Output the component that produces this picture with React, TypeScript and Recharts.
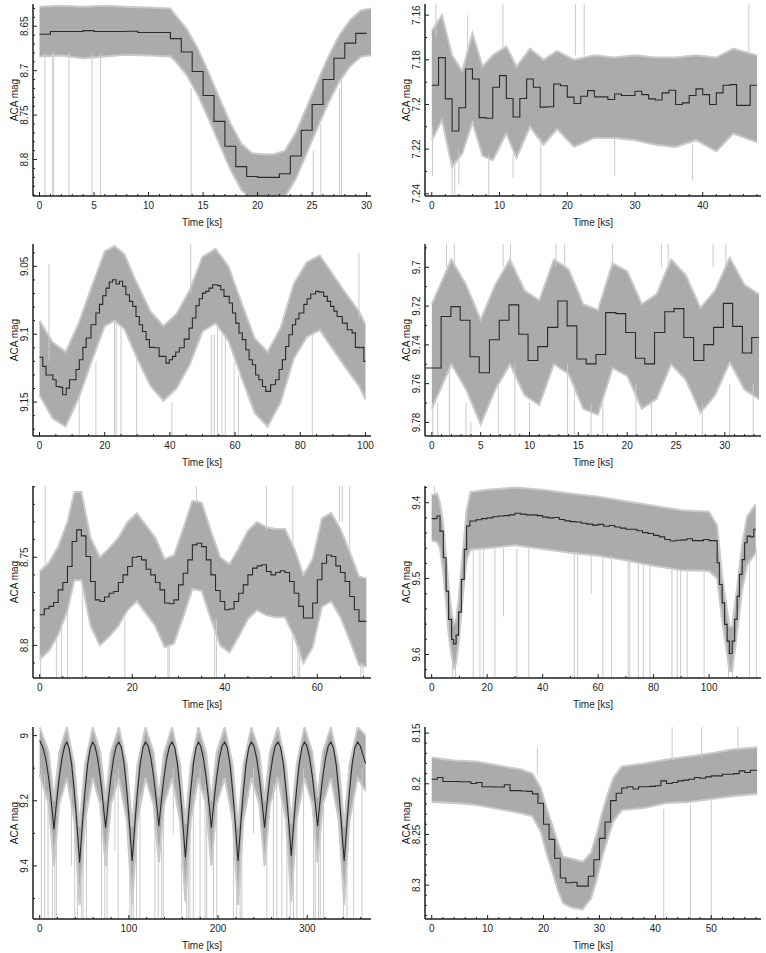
import { ComposedChart, Line, Area, XAxis, YAxis } from "recharts";

const INK = "#1e1e1e";
const BAND = "#ababab";
const HAIR = "#cacaca";
const FONT = "'Liberation Sans', Arial, Helvetica, sans-serif";

// ---- panel 1 (top left) ----
const p1Time = [0, 1, 2, 3, 4, 5, 6, 7, 8, 9, 10, 11, 12, 13, 14, 15, 16, 17, 18, 19, 20, 21, 22, 23, 24, 25, 26, 27, 28, 29];
const p1Mag = [8.659, 8.656, 8.656, 8.656, 8.655, 8.656, 8.656, 8.656, 8.6556, 8.657, 8.657, 8.657, 8.664, 8.679, 8.701, 8.728, 8.757, 8.785, 8.808, 8.819, 8.82, 8.82, 8.816, 8.796, 8.767, 8.738, 8.71, 8.686, 8.669, 8.658];
const p1End = 30;
const p1EnvTime = [0, 2, 4, 6, 8, 10, 12, 12.5, 13.5, 14.5, 15.5, 16.5, 17.5, 18.5, 19.5, 20.5, 21.5, 22.5, 23.5, 24.5, 25.5, 26.5, 27.5, 28.5, 29.5, 30.4];
const p1EnvLo = [8.628, 8.627, 8.628, 8.627, 8.628, 8.629, 8.63, 8.638, 8.653, 8.675, 8.702, 8.731, 8.759, 8.782, 8.793, 8.794, 8.794, 8.79, 8.77, 8.741, 8.712, 8.684, 8.66, 8.643, 8.632, 8.63];
const p1EnvHi = [8.684, 8.683, 8.686, 8.684, 8.682, 8.683, 8.684, 8.69, 8.705, 8.727, 8.754, 8.783, 8.811, 8.834, 8.845, 8.846, 8.846, 8.842, 8.822, 8.793, 8.764, 8.736, 8.712, 8.695, 8.684, 8.683];
const p1SpikeTime = [0.5, 1.2, 1.3, 2.7, 4.8, 5.6, 13.9, 25.1, 25.8, 27.5, 27.7];
const p1SpikeFrom = [8.68, 8.68, 8.68, 8.68, 8.68, 8.68, 8.72, 8.79, 8.76, 8.72, 8.71];
const p1SpikeTo = [8.845, 8.845, 8.845, 8.845, 8.845, 8.845, 8.845, 8.845, 8.845, 8.845, 8.845];

// ---- panel 2 (top right) ----
const p2Time = [0, 1, 2, 3, 4, 5, 6, 7, 8, 9, 10, 11, 12, 13, 14, 15, 16, 17, 18, 19, 20, 21, 22, 23, 24, 25, 26, 27, 28, 29, 30, 31, 32, 33, 34, 35, 36, 37, 38, 39, 40, 41, 42, 43, 44, 45, 46, 47];
const p2Mag = [7.1914, 7.179, 7.1975, 7.2119, 7.2015, 7.1841, 7.1886, 7.2059, 7.2062, 7.1923, 7.1871, 7.1973, 7.2056, 7.1973, 7.1886, 7.1923, 7.2012, 7.201, 7.1908, 7.1916, 7.1967, 7.1996, 7.1963, 7.1938, 7.1966, 7.1966, 7.1978, 7.1953, 7.196, 7.196, 7.1941, 7.1956, 7.1975, 7.198, 7.1948, 7.1936, 7.2, 7.1993, 7.196, 7.193, 7.1956, 7.2, 7.1948, 7.1914, 7.1911, 7.2004, 7.2004, 7.1914];
const p2End = 48;
const p2EnvTime = [0, 1.5, 3, 4.5, 6, 7.5, 9, 11, 12.5, 14.5, 16.5, 18.5, 21, 24, 27, 30, 33, 36, 39, 42, 44.5, 48];
const p2EnvLo = [7.167, 7.16, 7.178, 7.185, 7.168, 7.183, 7.178, 7.174, 7.183, 7.175, 7.18, 7.176, 7.18, 7.178, 7.179, 7.178, 7.179, 7.179, 7.178, 7.179, 7.175, 7.178];
const p2EnvHi = [7.216, 7.207, 7.228, 7.222, 7.208, 7.223, 7.225, 7.213, 7.224, 7.21, 7.218, 7.211, 7.219, 7.215, 7.215, 7.216, 7.218, 7.219, 7.216, 7.221, 7.213, 7.217];
const p2SpikeTime = [0.1, 0.6, 3.0, 3.4, 4.0, 5.3, 8.4, 10.5, 12.0, 16.1, 21.2, 22.5, 27.0, 38.5, 46.8];
const p2SpikeFrom = [7.21, 7.17, 7.225, 7.225, 7.22, 7.175, 7.222, 7.175, 7.222, 7.215, 7.178, 7.178, 7.215, 7.218, 7.178];
const p2SpikeTo = [7.232, 7.155, 7.241, 7.241, 7.236, 7.16, 7.241, 7.155, 7.233, 7.241, 7.155, 7.155, 7.232, 7.234, 7.155];

// ---- panel 3 (second row left) ----
const p3Time = [0, 1, 2, 4.1, 5.1, 6.1, 7.1, 8.2, 9.2, 11.2, 12.2, 13.3, 14.3, 15.8, 17.3, 18.4, 19.4, 20.4, 21.4, 22.4, 23.5, 24.5, 25.5, 26.5, 27.6, 28.6, 29.6, 30.6, 31.6, 32.7, 33.7, 35.2, 36.7, 38.8, 39.8, 40.8, 41.8, 42.9, 44.4, 45.9, 46.9, 48, 49, 50, 51, 52, 53.1, 54.6, 55.6, 56.6, 58.2, 59.2, 60.2, 61.2, 62.2, 63.3, 64.3, 65.3, 66.3, 67.3, 68.4, 69.4, 70.9, 72.4, 73.5, 74.5, 75.5, 76.5, 77.6, 78.6, 79.6, 81.1, 82.1, 83.2, 84.7, 85.7, 87.2, 88.3, 89.3, 90.3, 91.3, 92.9, 94.4, 95.9, 96.9, 98, 99, 99.5];
const p3Mag = [9.117, 9.1237, 9.13, 9.1335, 9.1385, 9.139, 9.1446, 9.1397, 9.1335, 9.126, 9.1188, 9.1097, 9.1028, 9.093, 9.0844, 9.078, 9.0716, 9.066, 9.0615, 9.0598, 9.063, 9.061, 9.0647, 9.0709, 9.0758, 9.0795, 9.0869, 9.093, 9.098, 9.104, 9.1097, 9.11, 9.1163, 9.1213, 9.1188, 9.1163, 9.1131, 9.11, 9.1036, 9.0955, 9.088, 9.079, 9.0738, 9.0697, 9.0684, 9.066, 9.0635, 9.0642, 9.0672, 9.0721, 9.077, 9.0844, 9.0918, 9.0991, 9.104, 9.1114, 9.1188, 9.1225, 9.13, 9.1335, 9.1385, 9.1421, 9.1372, 9.1335, 9.126, 9.1188, 9.109, 9.1004, 9.093, 9.0888, 9.0844, 9.078, 9.0738, 9.0704, 9.0684, 9.069, 9.0721, 9.0758, 9.0795, 9.083, 9.0869, 9.0918, 9.0967, 9.099, 9.1097, 9.11, 9.1097, 9.12];
const p3End = 100;
const p3EnvTime = [0, 4, 8, 12, 16, 20, 23, 26, 30, 34, 38, 42, 46, 50, 54, 58, 62, 66, 70, 74, 78, 82, 86, 90, 94, 98, 100];
const p3EnvLo = [9.09, 9.106, 9.113, 9.092, 9.065, 9.039, 9.035, 9.041, 9.063, 9.083, 9.094, 9.085, 9.068, 9.043, 9.037, 9.05, 9.077, 9.103, 9.113, 9.095, 9.063, 9.047, 9.042, 9.056, 9.07, 9.083, 9.093];
const p3EnvHi = [9.145, 9.162, 9.168, 9.147, 9.12, 9.094, 9.09, 9.096, 9.118, 9.138, 9.149, 9.14, 9.123, 9.098, 9.092, 9.105, 9.132, 9.158, 9.168, 9.15, 9.118, 9.102, 9.097, 9.111, 9.125, 9.138, 9.148];
const p3SpikeTime = [2.9, 12.2, 17.3, 23.0, 23.5, 25.0, 29.8, 40.6, 46.4, 52.7, 53.6, 54.6, 56.0, 57.0, 59.7, 61.0, 83.7, 98.0];
const p3SpikeFrom = [9.12, 9.145, 9.12, 9.09, 9.09, 9.095, 9.115, 9.15, 9.07, 9.1, 9.1, 9.095, 9.1, 9.1, 9.12, 9.13, 9.1, 9.09];
const p3SpikeTo = [9.048, 9.176, 9.176, 9.176, 9.176, 9.176, 9.176, 9.176, 9.033, 9.176, 9.176, 9.176, 9.176, 9.176, 9.176, 9.176, 9.176, 9.04];

// ---- panel 4 (second row right) ----
const p4Time = [-0.6, 0.95, 1.95, 2.9, 3.9, 4.85, 5.9, 6.9, 7.9, 8.9, 9.85, 10.85, 11.85, 12.9, 13.85, 14.85, 15.8, 16.8, 17.8, 18.85, 19.85, 20.85, 21.8, 22.8, 23.85, 24.8, 25.8, 26.8, 27.85, 28.85, 29.85, 30.8, 31.8, 32.75];
const p4Mag = [9.7519, 9.7254, 9.7203, 9.7273, 9.7461, 9.7544, 9.7374, 9.7273, 9.7194, 9.7345, 9.7481, 9.7409, 9.731, 9.7174, 9.7302, 9.7473, 9.7498, 9.745, 9.7234, 9.7239, 9.7336, 9.7469, 9.7498, 9.7336, 9.7229, 9.7213, 9.7362, 9.7481, 9.7399, 9.731, 9.7186, 9.7305, 9.7442, 9.7362];
const p4End = 33.5;
const p4EnvTime = [0, 2, 3.5, 5, 6.5, 8, 9.5, 11, 12.5, 14, 15.5, 17, 18.5, 20, 21.5, 23, 24.5, 26, 27.5, 29, 30.5, 32, 33.5];
const p4EnvLo = [9.719, 9.696, 9.709, 9.727, 9.709, 9.696, 9.712, 9.717, 9.696, 9.701, 9.719, 9.722, 9.698, 9.702, 9.719, 9.714, 9.696, 9.704, 9.721, 9.712, 9.695, 9.709, 9.714];
const p4EnvHi = [9.773, 9.75, 9.763, 9.781, 9.763, 9.75, 9.766, 9.771, 9.75, 9.755, 9.773, 9.776, 9.752, 9.756, 9.773, 9.768, 9.75, 9.758, 9.775, 9.766, 9.749, 9.763, 9.768];
const p4SpikeTime = [1.5, 2.3, 7.3, 8.05, 12.7, 13.6, 18.5, 23.5, 24.2, 28.8, 30.1, 0.1, 0.6, 1.8, 3.5, 4.0, 6.8, 8.5, 10.0, 13.9, 14.6, 16.3, 17.5, 20.9, 22.5, 27.7, 30.5, 32.9];
const p4SpikeFrom = [9.7, 9.7, 9.7, 9.7, 9.7, 9.7, 9.7, 9.7, 9.7, 9.7, 9.7, 9.77, 9.77, 9.75, 9.77, 9.78, 9.76, 9.75, 9.77, 9.75, 9.76, 9.77, 9.77, 9.76, 9.77, 9.77, 9.76, 9.76];
const p4SpikeTo = [9.687, 9.687, 9.687, 9.687, 9.687, 9.687, 9.687, 9.687, 9.687, 9.687, 9.687, 9.788, 9.788, 9.788, 9.788, 9.788, 9.788, 9.788, 9.788, 9.788, 9.788, 9.788, 9.788, 9.788, 9.788, 9.788, 9.788, 9.788];

// ---- panel 5 (third row left) ----
const p5Time = [0, 1, 2, 3, 4, 5, 6, 7, 8, 9, 10, 11, 12, 13, 14, 15, 16, 17, 18, 19, 20, 21, 22, 23, 24, 25, 26, 27, 28, 29, 30, 31, 32, 33, 34, 35, 36, 37, 38, 39, 40, 41, 42, 43, 44, 45, 46, 47, 48, 49, 50, 51, 52, 53, 54, 55, 56, 57, 58, 59, 60, 61, 62, 63, 64, 65, 66, 67, 68, 69];
const p5Mag = [8.7826, 8.7792, 8.7779, 8.7757, 8.7685, 8.7643, 8.7553, 8.7411, 8.7345, 8.7379, 8.7496, 8.7638, 8.7742, 8.7751, 8.7726, 8.7704, 8.7694, 8.7643, 8.76, 8.7553, 8.75, 8.7496, 8.7515, 8.7568, 8.76, 8.7643, 8.7685, 8.776, 8.7764, 8.7742, 8.7657, 8.7591, 8.7515, 8.743, 8.7421, 8.744, 8.7515, 8.76, 8.7689, 8.7751, 8.7798, 8.7794, 8.7751, 8.7704, 8.7657, 8.76, 8.7562, 8.7549, 8.7543, 8.7581, 8.76, 8.7587, 8.7577, 8.7587, 8.7638, 8.7704, 8.7779, 8.7845, 8.7845, 8.776, 8.7628, 8.7534, 8.7487, 8.7496, 8.7549, 8.7587, 8.7638, 8.7723, 8.7798, 8.7864];
const p5End = 70.6;
const p5EnvTime = [0, 2, 4, 6, 7.5, 9, 11, 13, 15, 17, 19, 21, 23, 25, 27, 29, 31, 33, 35, 37, 39, 41, 43, 45, 47, 49, 51, 53, 55, 57, 59, 61, 63, 65, 67, 69, 70.6];
const p5EnvLo = [8.758, 8.753, 8.744, 8.73, 8.713, 8.713, 8.739, 8.75, 8.745, 8.739, 8.73, 8.725, 8.732, 8.739, 8.751, 8.749, 8.734, 8.718, 8.719, 8.735, 8.75, 8.754, 8.745, 8.735, 8.73, 8.733, 8.734, 8.734, 8.745, 8.76, 8.751, 8.728, 8.725, 8.734, 8.747, 8.761, 8.762];
const p5EnvHi = [8.808, 8.803, 8.794, 8.78, 8.763, 8.763, 8.789, 8.8, 8.795, 8.789, 8.78, 8.775, 8.782, 8.789, 8.801, 8.799, 8.784, 8.768, 8.769, 8.785, 8.8, 8.804, 8.795, 8.785, 8.78, 8.783, 8.784, 8.784, 8.795, 8.81, 8.801, 8.778, 8.775, 8.784, 8.797, 8.811, 8.812];
const p5SpikeTime = [1.2, 33.9, 49.0, 54.7, 64.8, 65.4, 67.0, 0.2, 3.6, 4.7, 6.0, 9.2, 18.4, 27.7, 28.0, 37.8, 38.2, 54.6, 55.8, 56.2, 69.4, 69.9];
const p5SpikeFrom = [8.755, 8.72, 8.735, 8.745, 8.73, 8.73, 8.745, 8.805, 8.795, 8.79, 8.78, 8.765, 8.785, 8.8, 8.8, 8.785, 8.785, 8.795, 8.8, 8.8, 8.81, 8.81];
const p5SpikeTo = [8.709, 8.709, 8.709, 8.709, 8.709, 8.709, 8.709, 8.819, 8.819, 8.819, 8.819, 8.819, 8.819, 8.819, 8.819, 8.819, 8.819, 8.819, 8.819, 8.819, 8.819, 8.819];

// ---- panel 6 (third row right) ----
const p6Time = [0, 1.9, 3.0, 4.2, 5.2, 6.1, 7.2, 7.9, 8.8, 9.7, 10.7, 11.75, 12.6, 13.8, 16, 18, 20, 22, 24, 26, 28, 30, 32, 34, 36, 38, 40, 42, 44, 46, 48, 50, 52, 54, 56, 58, 60, 62, 64, 66, 68, 70, 72, 74, 76, 78, 80, 82, 84, 86, 88, 90, 92, 94, 96, 98, 100, 102.9, 103.7, 104.7, 105.6, 106.5, 107.3, 108.3, 109.2, 110.1, 110.9, 111.9, 112.8, 113.7, 114.9, 116.1];
const p6Mag = [9.421, 9.4176, 9.4374, 9.4725, 9.5165, 9.5538, 9.5802, 9.586, 9.5745, 9.5442, 9.5011, 9.4615, 9.4308, 9.4242, 9.4225, 9.421, 9.42, 9.4185, 9.4176, 9.417, 9.416, 9.414, 9.415, 9.416, 9.416, 9.417, 9.419, 9.42, 9.4196, 9.4222, 9.424, 9.425, 9.4255, 9.427, 9.4283, 9.4296, 9.4286, 9.431, 9.43, 9.432, 9.4335, 9.435, 9.435, 9.437, 9.4395, 9.4405, 9.443, 9.445, 9.4484, 9.4505, 9.4495, 9.449, 9.4475, 9.45, 9.45, 9.4484, 9.45, 9.4791, 9.5077, 9.532, 9.5604, 9.5824, 9.5987, 9.5824, 9.5538, 9.5235, 9.4945, 9.475, 9.4527, 9.444, 9.445, 9.435];
const p6End = 116.8;
const p6EnvTime = [0, 2, 3, 4.2, 5.2, 6.1, 7.2, 8, 8.8, 9.7, 10.7, 11.7, 12.6, 14, 20, 30, 40, 50, 60, 70, 80, 90, 100, 102.9, 104.7, 106.5, 107.3, 108.3, 110.1, 111.9, 113.7, 116.8];
const p6EnvLo = [9.39, 9.388, 9.4, 9.43, 9.472, 9.512, 9.545, 9.56, 9.555, 9.528, 9.487, 9.447, 9.41, 9.386, 9.383, 9.38, 9.383, 9.388, 9.392, 9.398, 9.404, 9.41, 9.412, 9.43, 9.497, 9.543, 9.563, 9.563, 9.512, 9.455, 9.418, 9.402];
const p6EnvHi = [9.45, 9.452, 9.46, 9.492, 9.532, 9.572, 9.602, 9.618, 9.612, 9.585, 9.546, 9.505, 9.475, 9.462, 9.46, 9.456, 9.461, 9.466, 9.47, 9.476, 9.483, 9.489, 9.49, 9.5, 9.555, 9.6, 9.622, 9.622, 9.57, 9.515, 9.482, 9.466];
const p6SpikeTime = [1.0, 15, 17.4, 18.6, 22.8, 25.9, 30.7, 35, 51.4, 52.6, 57.5, 61.7, 64.8, 70.8, 71.4, 74.5, 76.3, 78.7, 86.6, 88.5, 89.7, 92.1, 98.2, 7.5, 8.6, 107.0, 108.5, 114.6, 117.0];
const p6SpikeFrom = [9.39, 9.46, 9.46, 9.46, 9.46, 9.46, 9.46, 9.46, 9.465, 9.465, 9.47, 9.47, 9.47, 9.475, 9.475, 9.48, 9.48, 9.48, 9.485, 9.49, 9.49, 9.49, 9.49, 9.6, 9.61, 9.61, 9.62, 9.48, 9.46];
const p6SpikeTo = [9.378, 9.632, 9.632, 9.632, 9.632, 9.55, 9.632, 9.632, 9.632, 9.632, 9.52, 9.632, 9.632, 9.632, 9.632, 9.632, 9.632, 9.632, 9.632, 9.632, 9.632, 9.632, 9.632, 9.632, 9.632, 9.632, 9.632, 9.632, 9.632];

// ---- panel 7 (bottom left) ----
const p7Time = [
  0, 4, 7, 10, 12, 14, 16, 18, 20, 22, 25, 28, 30.4,
  32.8, 35.8, 38.8, 40.8, 42.8, 44.8, 46.8, 48.8, 50.8, 53.8, 56.8, 59.4,
  61.9, 64.9, 67.9, 69.9, 71.9, 73.9, 75.9, 77.9, 79.9, 82.9, 85.9, 88.8,
  91.7, 94.7, 97.7, 99.7, 101.7, 103.7, 105.7, 107.7, 109.7, 112.7, 115.7, 118.6,
  121.6, 124.6, 127.6, 129.6, 131.6, 133.6, 135.6, 137.6, 139.6, 142.6, 145.6, 148.5,
  151.4, 154.4, 157.4, 159.4, 161.4, 163.4, 165.4, 167.4, 169.4, 172.4, 175.4, 178,
  180.5, 183.5, 186.5, 188.5, 190.5, 192.5, 194.5, 196.5, 198.5, 201.5, 204.5, 207.5,
  210.4, 213.4, 216.4, 218.4, 220.4, 222.4, 224.4, 226.4, 228.4, 231.4, 234.4, 237.3,
  240.2, 243.2, 246.2, 248.2, 250.2, 252.2, 254.2, 256.2, 258.2, 261.2, 264.2, 267.2,
  270.1, 273.1, 276.1, 278.1, 280.1, 282.1, 284.1, 286.1, 288.1, 291.1, 294.1, 296.9,
  299.6, 302.6, 305.6, 307.6, 309.6, 311.6, 313.6, 315.6, 317.6, 320.6, 323.6, 326.5,
  329.4, 332.4, 335.4, 337.4, 339.4, 341.4, 343.4, 345.4, 347.4, 350.4, 353.4, 356.5,
  359.5, 362.5, 365.5,
];
const p7Mag = [
  9.015, 9.04, 9.075, 9.128, 9.176, 9.229, 9.288, 9.229, 9.176, 9.128, 9.069, 9.032, 9.02,
  9.037, 9.088, 9.171, 9.238, 9.312, 9.39, 9.312, 9.238, 9.171, 9.088, 9.037, 9.02,
  9.032, 9.069, 9.128, 9.176, 9.229, 9.283, 9.229, 9.176, 9.128, 9.069, 9.032, 9.02,
  9.037, 9.088, 9.171, 9.238, 9.31, 9.385, 9.31, 9.236, 9.17, 9.087, 9.037, 9.02,
  9.032, 9.068, 9.124, 9.171, 9.222, 9.278, 9.222, 9.171, 9.124, 9.068, 9.032, 9.02,
  9.036, 9.086, 9.166, 9.23, 9.302, 9.374, 9.302, 9.23, 9.166, 9.086, 9.036, 9.02,
  9.032, 9.069, 9.127, 9.175, 9.227, 9.283, 9.227, 9.175, 9.127, 9.069, 9.032, 9.02,
  9.037, 9.088, 9.171, 9.238, 9.312, 9.385, 9.312, 9.238, 9.171, 9.088, 9.037, 9.02,
  9.032, 9.069, 9.127, 9.175, 9.227, 9.283, 9.227, 9.175, 9.127, 9.069, 9.032, 9.02,
  9.036, 9.085, 9.163, 9.226, 9.296, 9.369, 9.296, 9.226, 9.163, 9.085, 9.036, 9.02,
  9.032, 9.068, 9.124, 9.171, 9.222, 9.278, 9.222, 9.171, 9.124, 9.068, 9.032, 9.02,
  9.037, 9.088, 9.171, 9.238, 9.312, 9.385, 9.312, 9.238, 9.171, 9.088, 9.037, 9.02,
  9.032, 9.06, 9.085,
];
const p7End = 365.5;
const p7EnvTime = [0, 10, 16, 22, 30.4, 38.8, 44.8, 50.8, 59.4, 67.9, 73.9, 79.9, 88.8, 97.7, 103.7, 109.7, 118.6, 127.6, 133.6, 139.6, 148.5, 157.4, 163.4, 169.4, 178, 186.5, 192.5, 198.5, 207.5, 216.4, 222.4, 228.4, 237.3, 246.2, 252.2, 258.2, 267.2, 276.1, 282.1, 288.1, 296.9, 305.6, 311.6, 317.6, 326.5, 335.4, 341.4, 347.4, 356.5, 365.5];
const p7EnvLo = [8.974, 9.05, 9.2, 9.05, 8.974, 9.09, 9.28, 9.09, 8.974, 9.05, 9.2, 9.05, 8.974, 9.09, 9.28, 9.09, 8.974, 9.05, 9.19, 9.05, 8.974, 9.09, 9.27, 9.09, 8.974, 9.05, 9.2, 9.05, 8.974, 9.09, 9.28, 9.09, 8.974, 9.05, 9.2, 9.05, 8.974, 9.09, 9.27, 9.09, 8.974, 9.05, 9.19, 9.05, 8.974, 9.09, 9.28, 9.09, 8.974, 9.0];
const p7EnvHi = [9.12, 9.21, 9.4, 9.21, 9.13, 9.26, 9.52, 9.26, 9.13, 9.21, 9.4, 9.21, 9.13, 9.26, 9.52, 9.26, 9.13, 9.21, 9.39, 9.21, 9.13, 9.26, 9.51, 9.26, 9.13, 9.21, 9.4, 9.21, 9.13, 9.26, 9.52, 9.26, 9.13, 9.21, 9.4, 9.21, 9.13, 9.26, 9.51, 9.26, 9.13, 9.21, 9.39, 9.21, 9.13, 9.26, 9.52, 9.26, 9.13, 9.17];
const p7SpikeTime = [1.9, 5.6, 9.4, 14.2, 16.9, 18.7, 35.6, 39.3, 42.3, 46.8, 48.7, 52.4, 69.3, 73.0, 75.7, 84.3, 88.0, 101.1, 103.0, 104.9, 108.6, 112.4, 129.2, 133.0, 136.7, 138.6, 149.8, 159.2, 164.8, 166.7, 168.5, 172.3, 179.8, 185.4, 187.3, 194.8, 198.5, 217.2, 221.0, 224.7, 226.6, 239.7, 254.7, 262.2, 265.9, 271.5, 277.2, 280.9, 284.6, 288.4, 295.9, 307.1, 309.0, 312.7, 314.6, 318.4, 340.8, 344.6, 352.1, 361.4];
const p7SpikeFrom = [9.1, 9.12, 9.17, 9.3, 9.33, 9.28, 9.16, 9.22, 9.35, 9.42, 9.33, 9.2, 9.2, 9.33, 9.3, 9.12, 9.1, 9.38, 9.44, 9.44, 9.28, 9.18, 9.22, 9.34, 9.28, 9.22, 9.1, 9.28, 9.44, 9.38, 9.28, 9.18, 9.1, 9.15, 9.18, 9.3, 9.2, 9.22, 9.4, 9.44, 9.35, 9.1, 9.3, 9.15, 9.12, 9.12, 9.25, 9.4, 9.42, 9.28, 9.1, 9.2, 9.25, 9.34, 9.3, 9.2, 9.44, 9.42, 9.18, 9.1];
const p7SpikeTo = [9.565, 9.565, 9.565, 9.565, 9.565, 9.565, 9.4, 9.565, 9.565, 9.565, 9.565, 9.565, 9.565, 9.565, 9.565, 9.35, 9.565, 9.565, 9.565, 9.565, 9.565, 9.565, 9.565, 9.565, 9.565, 9.565, 9.3, 9.565, 9.565, 9.565, 9.565, 9.565, 9.565, 9.565, 9.565, 9.565, 9.565, 9.565, 9.565, 9.565, 9.565, 9.3, 9.565, 9.565, 9.565, 9.565, 9.565, 9.565, 9.565, 9.565, 9.565, 9.565, 9.565, 9.565, 9.565, 9.565, 9.565, 9.565, 9.565, 9.565];

// ---- panel 8 (bottom right) ----
const p8Time = [0, 1, 2, 3, 4, 5, 6, 7, 8, 9, 10, 11, 12, 13, 14, 15, 16, 17, 18, 19, 20, 21, 22, 23, 24, 25, 26, 27, 28, 29, 30, 31, 32, 33, 34, 35, 36, 37, 38, 39, 40, 41, 42, 43, 44, 45, 46, 47, 48, 49, 50, 51, 52, 53, 54, 55, 56, 57];
const p8Mag = [8.1955, 8.1938, 8.1977, 8.1977, 8.1977, 8.198, 8.198, 8.1997, 8.1987, 8.2029, 8.2029, 8.2032, 8.2032, 8.201, 8.2068, 8.2068, 8.2071, 8.2075, 8.21, 8.2192, 8.24, 8.2549, 8.2734, 8.2929, 8.2977, 8.2971, 8.301, 8.301, 8.2912, 8.275, 8.2539, 8.2377, 8.2166, 8.2094, 8.2042, 8.2029, 8.2052, 8.2029, 8.2029, 8.2026, 8.2019, 8.1971, 8.1997, 8.1987, 8.1971, 8.1964, 8.1955, 8.1938, 8.1945, 8.1932, 8.1922, 8.1922, 8.1906, 8.1906, 8.19, 8.1873, 8.1889, 8.1867];
const p8End = 58.2;
const p8EnvTime = [0, 4, 8, 12, 16, 18, 19.5, 20.5, 21.5, 22.5, 23.5, 25, 27, 28.5, 29.5, 30.5, 31.5, 32.5, 34, 38, 42, 46, 50, 54, 58.2];
const p8EnvLo = [8.174, 8.177, 8.178, 8.182, 8.186, 8.19, 8.204, 8.223, 8.24, 8.257, 8.272, 8.274, 8.277, 8.268, 8.25, 8.228, 8.21, 8.194, 8.183, 8.18, 8.176, 8.173, 8.17, 8.166, 8.164];
const p8EnvHi = [8.218, 8.219, 8.221, 8.225, 8.229, 8.232, 8.247, 8.268, 8.285, 8.304, 8.318, 8.322, 8.324, 8.313, 8.295, 8.272, 8.254, 8.237, 8.226, 8.224, 8.219, 8.218, 8.215, 8.212, 8.21];
const p8SpikeTime = [18.9, 41.5, 43.0, 46.3, 48.3, 50.0, 54.8];
const p8SpikeFrom = [8.19, 8.225, 8.175, 8.22, 8.175, 8.215, 8.17];
const p8SpikeTo = [8.164, 8.334, 8.144, 8.334, 8.144, 8.334, 8.144];

const range = (a: number, b: number, s: number) => {
  const out: number[] = [];
  for (let v = a; v <= b + s * 1e-6; v += s) out.push(Number(v.toFixed(4)));
  return out;
};
const isMajor = (v: number, majors: number[]) => majors.some((m) => Math.abs(m - v) < 1e-6);
const fmt = (v: number) => String(parseFloat(v.toFixed(4)));
const allTicks = (majors: number[], minors: number[]) =>
  Array.from(new Set([...majors, ...minors].map((v) => Number(v.toFixed(4))))).sort((a, b) => a - b);

const BottomTick = ({ x, y, payload, majors }: any) => {
  const major = isMajor(payload.value, majors);
  return (
    <g>
      <line x1={x} x2={x} y1={y} y2={y - (major ? 4 : 2)} stroke={INK} strokeWidth={1} />
      {major && (
        <text x={x} y={y + 9} textAnchor="middle" dominantBaseline="central" fontSize={10} fill={INK} fontFamily={FONT}>
          {fmt(payload.value)}
        </text>
      )}
    </g>
  );
};
const TopTick = ({ x, y, payload, majors }: any) => {
  const major = isMajor(payload.value, majors);
  return <line x1={x} x2={x} y1={y} y2={y + (major ? 4 : 2)} stroke={INK} strokeWidth={1} />;
};
const LeftTick = ({ x, y, payload, majors }: any) => {
  const major = isMajor(payload.value, majors);
  const lx = x - 8;
  return (
    <g>
      <line x1={x} x2={x + (major ? 4 : 2)} y1={y} y2={y} stroke={INK} strokeWidth={1} />
      {major && (
        <text x={lx} y={y} transform={`rotate(-90, ${lx}, ${y})`} textAnchor="middle" dominantBaseline="central" fontSize={10} fill={INK} fontFamily={FONT}>
          {fmt(payload.value)}
        </text>
      )}
    </g>
  );
};
const RightTick = ({ x, y, payload, majors }: any) => {
  const major = isMajor(payload.value, majors);
  return <line x1={x} x2={x - (major ? 4 : 2)} y1={y} y2={y} stroke={INK} strokeWidth={1} />;
};

interface PanelProps {
  fx: number;
  fy: number;
  fw: number;
  fh: number;
  xDomain: [number, number];
  yDomain: [number, number];
  xTicks: number[];
  xMinor: number[];
  yTicks: number[];
  yMinor: number[];
  time: number[];
  mag: number[];
  end: number;
  envTime: number[];
  envLo: number[];
  envHi: number[];
  spikeTime: number[];
  spikeFrom: number[];
  spikeTo: number[];
  curve?: "stepAfter" | "linear";
}

const L = 30;
const B = 30;
const T = 4;
const R = 4;
const frame = { stroke: INK, strokeWidth: 1.5 };

const Panel = (p: PanelProps) => {
  const stepData = [...p.time.map((t, i) => ({ t, v: p.mag[i] })), { t: p.end, v: p.mag[p.mag.length - 1] }];
  const envData = p.envTime.map((t, i) => ({ t, band: [p.envLo[i], p.envHi[i]] }));
  const spikeData = p.spikeTime.flatMap((t, i) => [
    { t, v: p.spikeFrom[i] },
    { t, v: p.spikeTo[i] },
    { t, v: null },
  ]);
  const xt = allTicks(p.xTicks, p.xMinor);
  const yt = allTicks(p.yTicks, p.yMinor);
  return (
    <>
      <div style={{ position: "absolute", left: p.fx - L, top: p.fy - T }}>
        <ComposedChart width={p.fw + L + R} height={p.fh + T + B} margin={{ top: T, right: R, bottom: 0, left: 0 }}>
          <XAxis type="number" dataKey="t" domain={p.xDomain} allowDataOverflow ticks={xt} interval={0} height={B}
            tickSize={0} tickMargin={0} tickLine={false} axisLine={frame}
            tick={(props: any) => <BottomTick {...props} majors={p.xTicks} />} />
          <XAxis xAxisId="top" orientation="top" type="number" domain={p.xDomain} allowDataOverflow ticks={xt} interval={0} height={0}
            tickSize={0} tickMargin={0} tickLine={false} axisLine={frame}
            tick={(props: any) => <TopTick {...props} majors={p.xTicks} />} />
          <YAxis type="number" domain={p.yDomain} reversed allowDataOverflow ticks={yt} interval={0} width={L}
            tickSize={0} tickMargin={0} tickLine={false} axisLine={frame}
            tick={(props: any) => <LeftTick {...props} majors={p.yTicks} />} />
          <YAxis yAxisId="right" orientation="right" type="number" domain={p.yDomain} reversed allowDataOverflow ticks={yt} interval={0} width={0}
            tickSize={0} tickMargin={0} tickLine={false} axisLine={frame}
            tick={(props: any) => <RightTick {...props} majors={p.yTicks} />} />
          <Line data={spikeData} dataKey="v" stroke={HAIR} strokeWidth={1} dot={false} connectNulls={false} isAnimationActive={false} />
          <Area data={envData} dataKey="band" type="linear" stroke={HAIR} strokeWidth={2} fill={BAND} fillOpacity={1} isAnimationActive={false} />
          <Line data={stepData} dataKey="v" type={p.curve ?? "stepAfter"} stroke="#2a2a2a" strokeWidth={1.1} dot={false} isAnimationActive={false} />
        </ComposedChart>
      </div>
      <div style={{ position: "absolute", left: p.fx - 19, top: p.fy + p.fh / 2, transform: "translate(-50%, -50%) rotate(-90deg)", fontSize: 10, fontFamily: FONT, color: INK, whiteSpace: "nowrap" }}>
        ACA mag
      </div>
      <div style={{ position: "absolute", left: p.fx + p.fw / 2, top: p.fy + p.fh + 26, transform: "translate(-50%, -50%)", fontSize: 10, fontFamily: FONT, color: INK, whiteSpace: "nowrap" }}>
        Time [ks]
      </div>
    </>
  );
};

const LX = 33;
const LW = 338;
const RX = 425;
const RW = 336;
const FH = 192;

export default function App() {
  return (
    <div style={{ position: "absolute", left: 0, top: 0, width: 766, height: 953, background: "#fff", overflow: "hidden" }}>
      <Panel fx={LX} fy={4} fw={LW} fh={FH} xDomain={[-0.6, 30.4]} yDomain={[8.625, 8.841]}
        xTicks={[0, 5, 10, 15, 20, 25, 30]} xMinor={range(0, 30, 1)} yTicks={[8.65, 8.7, 8.75, 8.8]} yMinor={range(8.63, 8.84, 0.01)}
        time={p1Time} mag={p1Mag} end={p1End} envTime={p1EnvTime} envLo={p1EnvLo} envHi={p1EnvHi}
        spikeTime={p1SpikeTime} spikeFrom={p1SpikeFrom} spikeTo={p1SpikeTo} />
      <Panel fx={RX} fy={4} fw={RW} fh={FH} xDomain={[-1.0, 48.6]} yDomain={[7.155, 7.241]}
        xTicks={[0, 10, 20, 30, 40]} xMinor={range(0, 48, 2)} yTicks={[7.16, 7.18, 7.2, 7.22, 7.24]} yMinor={range(7.16, 7.24, 0.01)}
        time={p2Time} mag={p2Mag} end={p2End} envTime={p2EnvTime} envLo={p2EnvLo} envHi={p2EnvHi}
        spikeTime={p2SpikeTime} spikeFrom={p2SpikeFrom} spikeTo={p2SpikeTo} />
      <Panel fx={LX} fy={244} fw={LW} fh={FH} xDomain={[-2.0, 101.7]} yDomain={[9.0335, 9.175]}
        xTicks={[0, 20, 40, 60, 80, 100]} xMinor={range(0, 100, 5)} yTicks={[9.05, 9.1, 9.15]} yMinor={range(9.04, 9.17, 0.01)}
        time={p3Time} mag={p3Mag} end={p3End} envTime={p3EnvTime} envLo={p3EnvLo} envHi={p3EnvHi}
        spikeTime={p3SpikeTime} spikeFrom={p3SpikeFrom} spikeTo={p3SpikeTo} />
      <Panel fx={RX} fy={244} fw={RW} fh={FH} xDomain={[-0.7, 33.7]} yDomain={[9.688, 9.787]}
        xTicks={[0, 5, 10, 15, 20, 25, 30]} xMinor={range(0, 33, 1)} yTicks={[9.7, 9.72, 9.74, 9.76, 9.78]} yMinor={range(9.69, 9.78, 0.01)}
        time={p4Time} mag={p4Mag} end={p4End} envTime={p4EnvTime} envLo={p4EnvLo} envHi={p4EnvHi}
        spikeTime={p4SpikeTime} spikeFrom={p4SpikeFrom} spikeTo={p4SpikeTo} />
      <Panel fx={LX} fy={486} fw={LW} fh={FH} xDomain={[-1.45, 71.6]} yDomain={[8.7096, 8.8185]}
        xTicks={[0, 20, 40, 60]} xMinor={range(0, 70, 5)} yTicks={[8.75, 8.8]} yMinor={range(8.71, 8.81, 0.01)}
        time={p5Time} mag={p5Mag} end={p5End} envTime={p5EnvTime} envLo={p5EnvLo} envHi={p5EnvHi}
        spikeTime={p5SpikeTime} spikeFrom={p5SpikeFrom} spikeTo={p5SpikeTo} />
      <Panel fx={RX} fy={486} fw={RW} fh={FH} xDomain={[-2.4, 118.7]} yDomain={[9.378, 9.631]}
        xTicks={[0, 20, 40, 60, 80, 100]} xMinor={range(0, 110, 10)} yTicks={[9.4, 9.5, 9.6]} yMinor={range(9.38, 9.62, 0.02)}
        time={p6Time} mag={p6Mag} end={p6End} envTime={p6EnvTime} envLo={p6EnvLo} envHi={p6EnvHi}
        spikeTime={p6SpikeTime} spikeFrom={p6SpikeFrom} spikeTo={p6SpikeTo} />
      <Panel fx={LX} fy={727} fw={LW} fh={FH} xDomain={[-7.5, 371.5]} yDomain={[8.9735, 9.563]}
        xTicks={[0, 100, 200, 300]} xMinor={range(0, 360, 20)} yTicks={[9, 9.2, 9.4]} yMinor={range(9, 9.5, 0.1)}
        time={p7Time} mag={p7Mag} end={p7End} envTime={p7EnvTime} envLo={p7EnvLo} envHi={p7EnvHi}
        spikeTime={p7SpikeTime} spikeFrom={p7SpikeFrom} spikeTo={p7SpikeTo} curve="linear" />
      <Panel fx={RX} fy={727} fw={RW} fh={FH} xDomain={[-1.2, 58.9]} yDomain={[8.144, 8.3334]}
        xTicks={[0, 10, 20, 30, 40, 50]} xMinor={range(0, 58, 2)} yTicks={[8.15, 8.2, 8.25, 8.3]} yMinor={range(8.15, 8.33, 0.01)}
        time={p8Time} mag={p8Mag} end={p8End} envTime={p8EnvTime} envLo={p8EnvLo} envHi={p8EnvHi}
        spikeTime={p8SpikeTime} spikeFrom={p8SpikeFrom} spikeTo={p8SpikeTo} />
    </div>
  );
}
